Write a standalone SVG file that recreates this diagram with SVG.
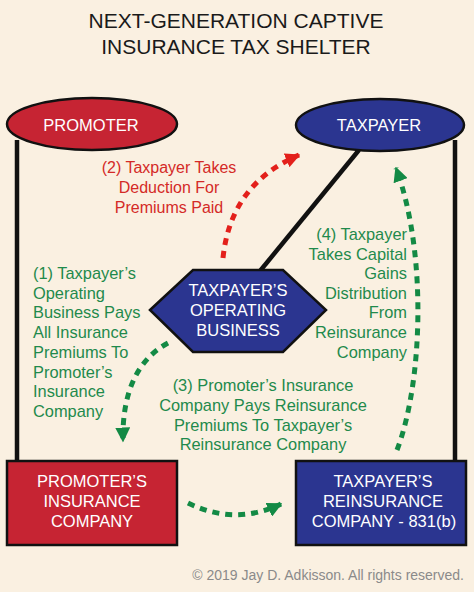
<svg xmlns="http://www.w3.org/2000/svg" width="474" height="592" viewBox="0 0 474 592">
<style>
  text { font-family: "Liberation Sans", Arial, sans-serif; }
  .title { font-size: 21px; fill: #1a1a1a; text-anchor: middle; }
  .node { font-size: 16.5px; fill: #ffffff; text-anchor: middle; }
  .g { font-size: 16.4px; fill: #1f8a4c; }
  .r { font-size: 16px; fill: #d42a27; text-anchor: middle; }
  .red { fill: #c62433; stroke: #111; stroke-width: 2.5; }
  .blue { fill: #2b3590; stroke: #111; stroke-width: 2.5; }
  .solid { stroke: #111; stroke-width: 4.5; fill: none; }
  .dg { stroke: #138a45; stroke-width: 5; stroke-dasharray: 7 6; fill: none; }
  .dr { stroke: #e3201b; stroke-width: 5; stroke-dasharray: 7 6; fill: none; }
  .copy { font-size: 14px; fill: #8a8a8a; text-anchor: end; }
</style>
<defs>
  <marker id="ag" viewBox="0 0 10 10" refX="9" refY="5" markerWidth="3" markerHeight="3" orient="auto" markerUnits="strokeWidth">
    <path d="M0,0 L10,5 L0,10 z" fill="#138a45"/>
  </marker>
  <marker id="ar" viewBox="0 0 10 10" refX="9" refY="5" markerWidth="3" markerHeight="3" orient="auto" markerUnits="strokeWidth">
    <path d="M0,0 L10,5 L0,10 z" fill="#e3201b"/>
  </marker>
</defs>
<rect x="0" y="0" width="474" height="592" fill="#faf0e1"/>
<g id="title">
  <text class="title" x="236" y="28">NEXT-GENERATION CAPTIVE</text>
  <text class="title" x="236" y="54">INSURANCE TAX SHELTER</text>
</g>
<g id="connectors">
  <line class="solid" x1="17" y1="140" x2="17" y2="462"/>
  <line class="solid" x1="455" y1="140" x2="455" y2="462"/>
  <line class="solid" x1="359" y1="150" x2="260" y2="271"/>
  <path class="dr" d="M223,258 C228,210 252,175 299,155" marker-end="url(#ar)"/>
  <path class="dg" d="M168,343 C136,360 122,395 123,441" marker-end="url(#ag)"/>
  <path class="dg" d="M188,503 Q235,526 281,504" marker-end="url(#ag)"/>
  <path class="dg" d="M397,450 C422,385 428,255 396,168" marker-end="url(#ag)"/>
</g>
<g id="promoter">
  <ellipse class="red" cx="92" cy="124" rx="85" ry="26"/>
  <text class="node" x="91" y="131">PROMOTER</text>
</g>
<g id="taxpayer">
  <ellipse class="blue" cx="380" cy="125" rx="84" ry="26"/>
  <text class="node" x="379" y="131">TAXPAYER</text>
</g>
<g id="operating-business">
  <polygon class="blue" points="150,310 193,270 283,270 326,310 283,352 193,352"/>
  <text class="node" x="238" y="296">TAXPAYER’S</text>
  <text class="node" x="238" y="316">OPERATING</text>
  <text class="node" x="238" y="336">BUSINESS</text>
</g>
<g id="promoters-insurance">
  <rect class="red" x="7" y="461" width="170" height="84"/>
  <text class="node" x="92" y="487">PROMOTER’S</text>
  <text class="node" x="92" y="507">INSURANCE</text>
  <text class="node" x="92" y="527">COMPANY</text>
</g>
<g id="taxpayers-reinsurance">
  <rect class="blue" x="296" y="461" width="170" height="84"/>
  <text class="node" x="383" y="487">TAXPAYER’S</text>
  <text class="node" x="383" y="507">REINSURANCE</text>
  <text class="node" x="384" y="527">COMPANY - 831(b)</text>
</g>
<g id="label-2">
  <text class="r" x="169" y="173">(2) Taxpayer Takes</text>
  <text class="r" x="169" y="193">Deduction For</text>
  <text class="r" x="169" y="213">Premiums Paid</text>
</g>
<g id="label-1">
  <text class="g" x="33" y="279">(1) Taxpayer’s</text>
  <text class="g" x="33" y="298.5">Operating</text>
  <text class="g" x="33" y="318">Business Pays</text>
  <text class="g" x="33" y="338">All Insurance</text>
  <text class="g" x="33" y="358">Premiums To</text>
  <text class="g" x="33" y="377.5">Promoter’s</text>
  <text class="g" x="33" y="397">Insurance</text>
  <text class="g" x="33" y="417">Company</text>
</g>
<g id="label-4" text-anchor="end">
  <text class="g" x="407" y="240">(4) Taxpayer</text>
  <text class="g" x="407" y="259.5">Takes Capital</text>
  <text class="g" x="407" y="279">Gains</text>
  <text class="g" x="407" y="298.5">Distribution</text>
  <text class="g" x="407" y="318">From</text>
  <text class="g" x="407" y="338">Reinsurance</text>
  <text class="g" x="407" y="358">Company</text>
</g>
<g id="label-3" text-anchor="middle">
  <text class="g" x="263" y="391">(3) Promoter’s Insurance</text>
  <text class="g" x="263" y="411">Company Pays Reinsurance</text>
  <text class="g" x="263" y="430.5">Premiums To Taxpayer’s</text>
  <text class="g" x="263" y="450">Reinsurance Company</text>
</g>
<text class="copy" x="464" y="580">© 2019 Jay D. Adkisson. All rights reserved.</text>
</svg>
